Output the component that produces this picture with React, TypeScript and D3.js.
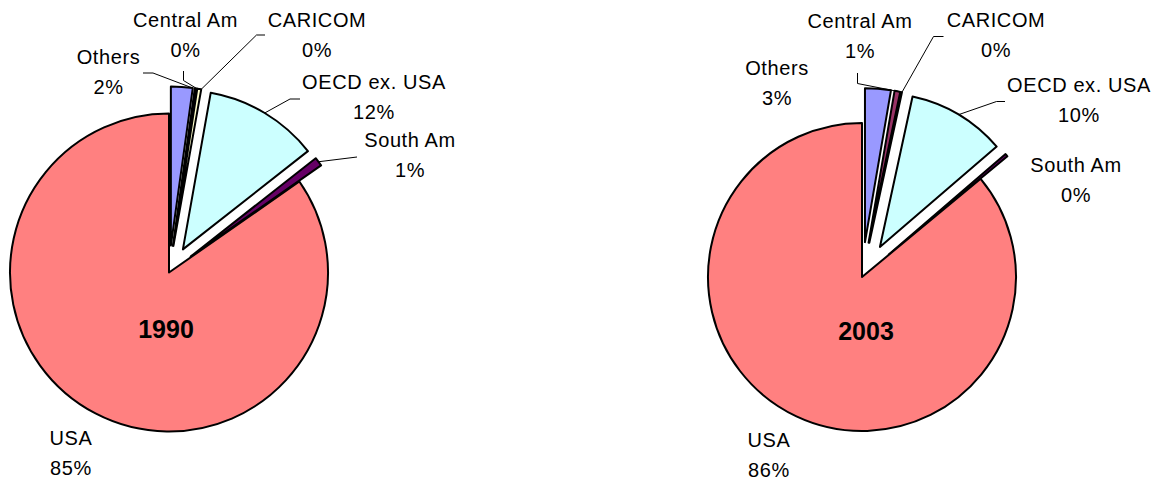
import React from "react";
import * as d3 from "d3";

// Destination shares of exports (%), by region
const categories = ["Others", "Central Am", "CARICOM", "OECD ex. USA", "South Am", "USA"];
const shares1990 = [2.2, 0.2, 0.4, 11.6, 0.9, 84.7];
const shares2003 = [2.7, 0.6, 0.1, 10.3, 0.3, 86.0];
const years = ["1990", "2003"];

const sliceColors = ["#9999FF", "#993366", "#FFFFCC", "#CCFFFF", "#660066", "#FF8080"];

type Leader = { pts: [number, number][]; at: "mid" | "end" };
type LabelPos = { x: number; y: number; leader?: Leader };

type PieLayout = {
  cx: number;
  cy: number;
  r: number;
  explode: number;
  title: { x: number; y: number };
  labels: LabelPos[];
};

const layouts: PieLayout[] = [
  {
    cx: 169,
    cy: 272.5,
    r: 159,
    explode: 27,
    title: { x: 166, y: 338 },
    labels: [
      { x: 108.5, y: 64, leader: { pts: [[143, 73], [153, 73]], at: "end" } },
      { x: 185.5, y: 27, leader: { pts: [[183.5, 71], [183.5, 80.5]], at: "end" } },
      { x: 317, y: 27, leader: { pts: [[265, 35], [256.5, 35]], at: "end" } },
      { x: 374, y: 89, leader: { pts: [[300, 99], [290, 99]], at: "mid" } },
      { x: 410, y: 147, leader: { pts: [[357, 157]], at: "mid" } },
      { x: 71, y: 445 },
    ],
  },
  {
    cx: 862,
    cy: 277,
    r: 154,
    explode: 35,
    title: { x: 866, y: 340 },
    labels: [
      { x: 777, y: 75 },
      { x: 860, y: 28, leader: { pts: [[857.5, 73], [857.5, 83.5]], at: "end" } },
      { x: 996, y: 27, leader: { pts: [[943.5, 36.5], [933.5, 36.5]], at: "end" } },
      { x: 1079, y: 92, leader: { pts: [[1005, 101.5], [996.5, 101.5]], at: "mid" } },
      { x: 1076, y: 172 },
      { x: 769, y: 447 },
    ],
  },
];

const FONT = "'Liberation Sans', Arial, sans-serif";
const LINE_GAP = 30;

function PieChart({ values, year, layout }: { values: number[]; year: string; layout: PieLayout }) {
  const pie = d3
    .pie<number>()
    .sort(null)
    .value((d) => d)
    .startAngle(0)
    .endAngle(2 * Math.PI);
  const arcs = pie(values);
  const arcGen = d3.arc<d3.PieArcDatum<number>>().innerRadius(0).outerRadius(layout.r);

  // every slice except USA is pulled out along its bisector
  const offsetOf = (a: d3.PieArcDatum<number>, i: number) => {
    if (categories[i] === "USA") return [0, 0];
    const mid = (a.startAngle + a.endAngle) / 2;
    return [Math.sin(mid) * layout.explode, -Math.cos(mid) * layout.explode];
  };

  const edgePoint = (a: d3.PieArcDatum<number>, i: number, at: "mid" | "end") => {
    const [ox, oy] = offsetOf(a, i);
    const ang = at === "mid" ? (a.startAngle + a.endAngle) / 2 : a.endAngle;
    return [layout.cx + ox + Math.sin(ang) * layout.r, layout.cy + oy - Math.cos(ang) * layout.r];
  };

  const line = d3.line();

  return (
    <g>
      {arcs.map((a, i) => {
        const [ox, oy] = offsetOf(a, i);
        return (
          <path
            key={categories[i]}
            d={arcGen(a) || ""}
            transform={`translate(${layout.cx + ox},${layout.cy + oy})`}
            fill={sliceColors[i]}
            stroke="#000"
            strokeWidth={2}
            strokeLinejoin="round"
          />
        );
      })}
      {arcs.map((a, i) => {
        const lp = layout.labels[i];
        if (!lp.leader) return null;
        const pts = [...lp.leader.pts, edgePoint(a, i, lp.leader.at)] as [number, number][];
        return <path key={"ld" + i} d={line(pts) || ""} fill="none" stroke="#000" strokeWidth={1} />;
      })}
      {arcs.map((a, i) => {
        const lp = layout.labels[i];
        return (
          <text
            key={"lb" + i}
            x={lp.x}
            y={lp.y}
            textAnchor="middle"
            fontFamily={FONT}
            fontSize={20}
            letterSpacing={0.6}
            fill="#000"
          >
            <tspan x={lp.x}>{categories[i]}</tspan>
            <tspan x={lp.x} dy={LINE_GAP}>{`${Math.round(values[i])}%`}</tspan>
          </text>
        );
      })}
      <text
        x={layout.title.x}
        y={layout.title.y}
        textAnchor="middle"
        fontFamily={FONT}
        fontSize={25}
        fontWeight="bold"
        fill="#000"
      >
        {year}
      </text>
    </g>
  );
}

export default function App() {
  const series = [shares1990, shares2003];
  return (
    <svg
      width={1160}
      height={483}
      style={{ position: "absolute", left: 0, top: 0, background: "#fff" }}
    >
      {series.map((vals, k) => (
        <PieChart key={years[k]} values={vals} year={years[k]} layout={layouts[k]} />
      ))}
    </svg>
  );
}
